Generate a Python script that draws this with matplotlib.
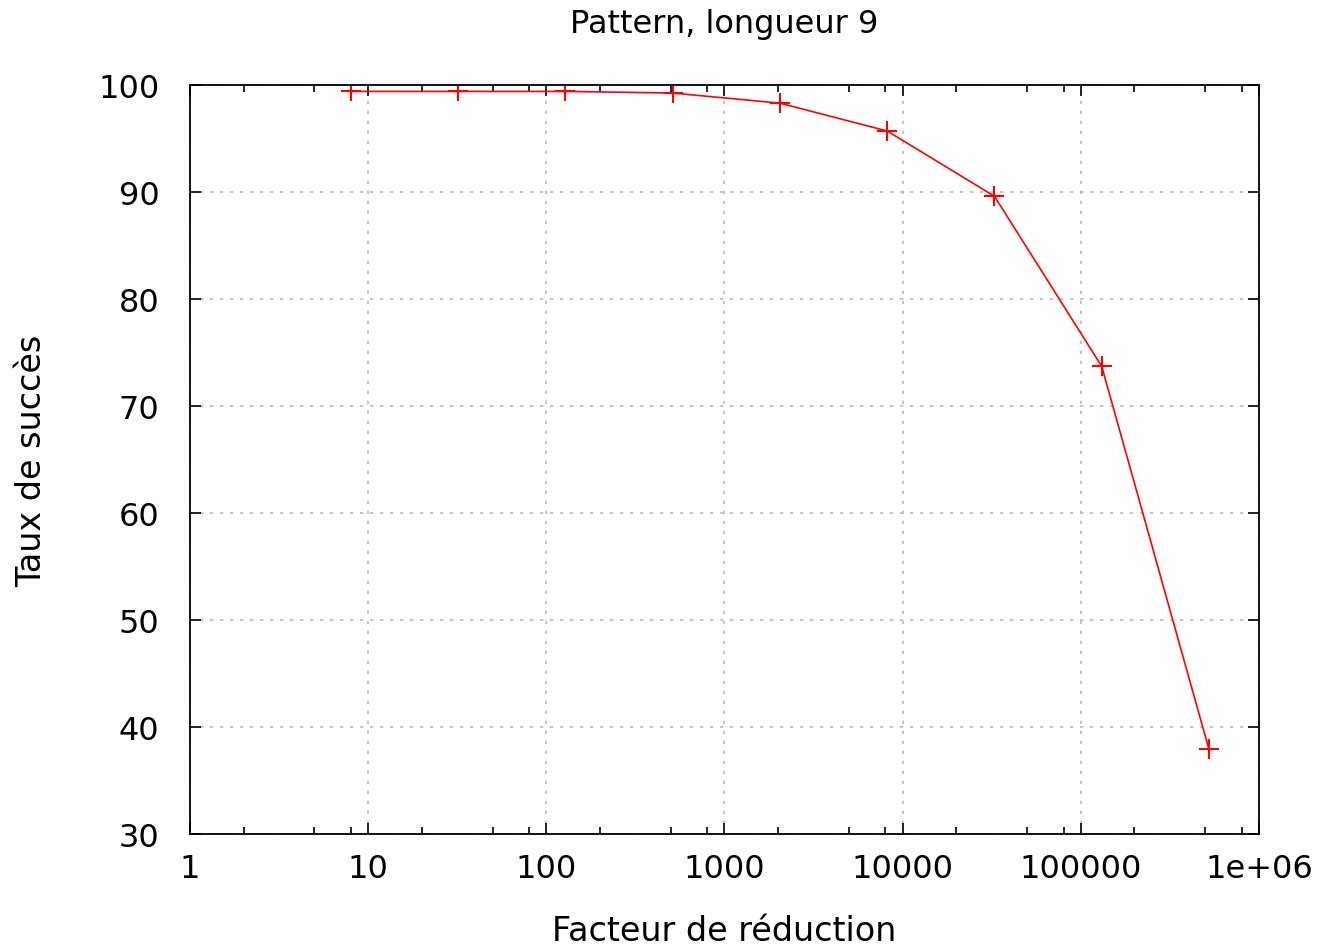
import matplotlib.pyplot as plt
from matplotlib.ticker import FixedLocator, FixedFormatter, LogLocator, NullFormatter

# data
facteur = [8, 32, 128, 512, 2048, 8192, 32768, 131072, 524288]
taux = [99.4, 99.4, 99.4, 99.25, 98.3, 95.7, 89.6, 73.7, 37.9]

x_ticks = [1, 10, 100, 1000, 10000, 100000, 1000000]
x_labels = ['1', '10', '100', '1000', '10000', '100000', '1e+06']
y_ticks = [30, 40, 50, 60, 70, 80, 90, 100]

fig = plt.figure(figsize=(13.19, 9.45), dpi=100)
ax = fig.add_axes([0.144, 0.1164, 0.8105, 0.7926])

ax.plot(facteur, taux, color='red', linewidth=1.2, marker='+',
        markersize=14, markeredgewidth=1.5)

ax.set_xscale('log')
ax.set_xlim(1, 1e6)
ax.set_ylim(30, 100)
ax.xaxis.set_major_locator(FixedLocator(x_ticks))
ax.xaxis.set_major_formatter(FixedFormatter(x_labels))
ax.xaxis.set_minor_locator(LogLocator(base=10, subs=[2, 5, 8]))
ax.xaxis.set_minor_formatter(NullFormatter())
ax.set_yticks(y_ticks)

ax.grid(True, which='major', color='#bbbbbb', linestyle=(0, (2, 4)), linewidth=1.2)
ax.tick_params(which='both', direction='in', top=True, right=True, width=1.2,
               labelsize=23, colors='black')
ax.tick_params(axis='x', which='major', pad=14)
ax.tick_params(axis='y', which='major', pad=22)
ax.tick_params(which='major', length=8)
ax.tick_params(which='minor', length=5)
for s in ax.spines.values():
    s.set_linewidth(1.3)

ax.set_title('Pattern, longueur 9', fontsize=23, pad=38)
ax.set_xlabel('Facteur de réduction', fontsize=24, labelpad=21)
ax.set_ylabel('Taux de succès', fontsize=24, labelpad=36)

fig.savefig('out.png', dpi=100)
